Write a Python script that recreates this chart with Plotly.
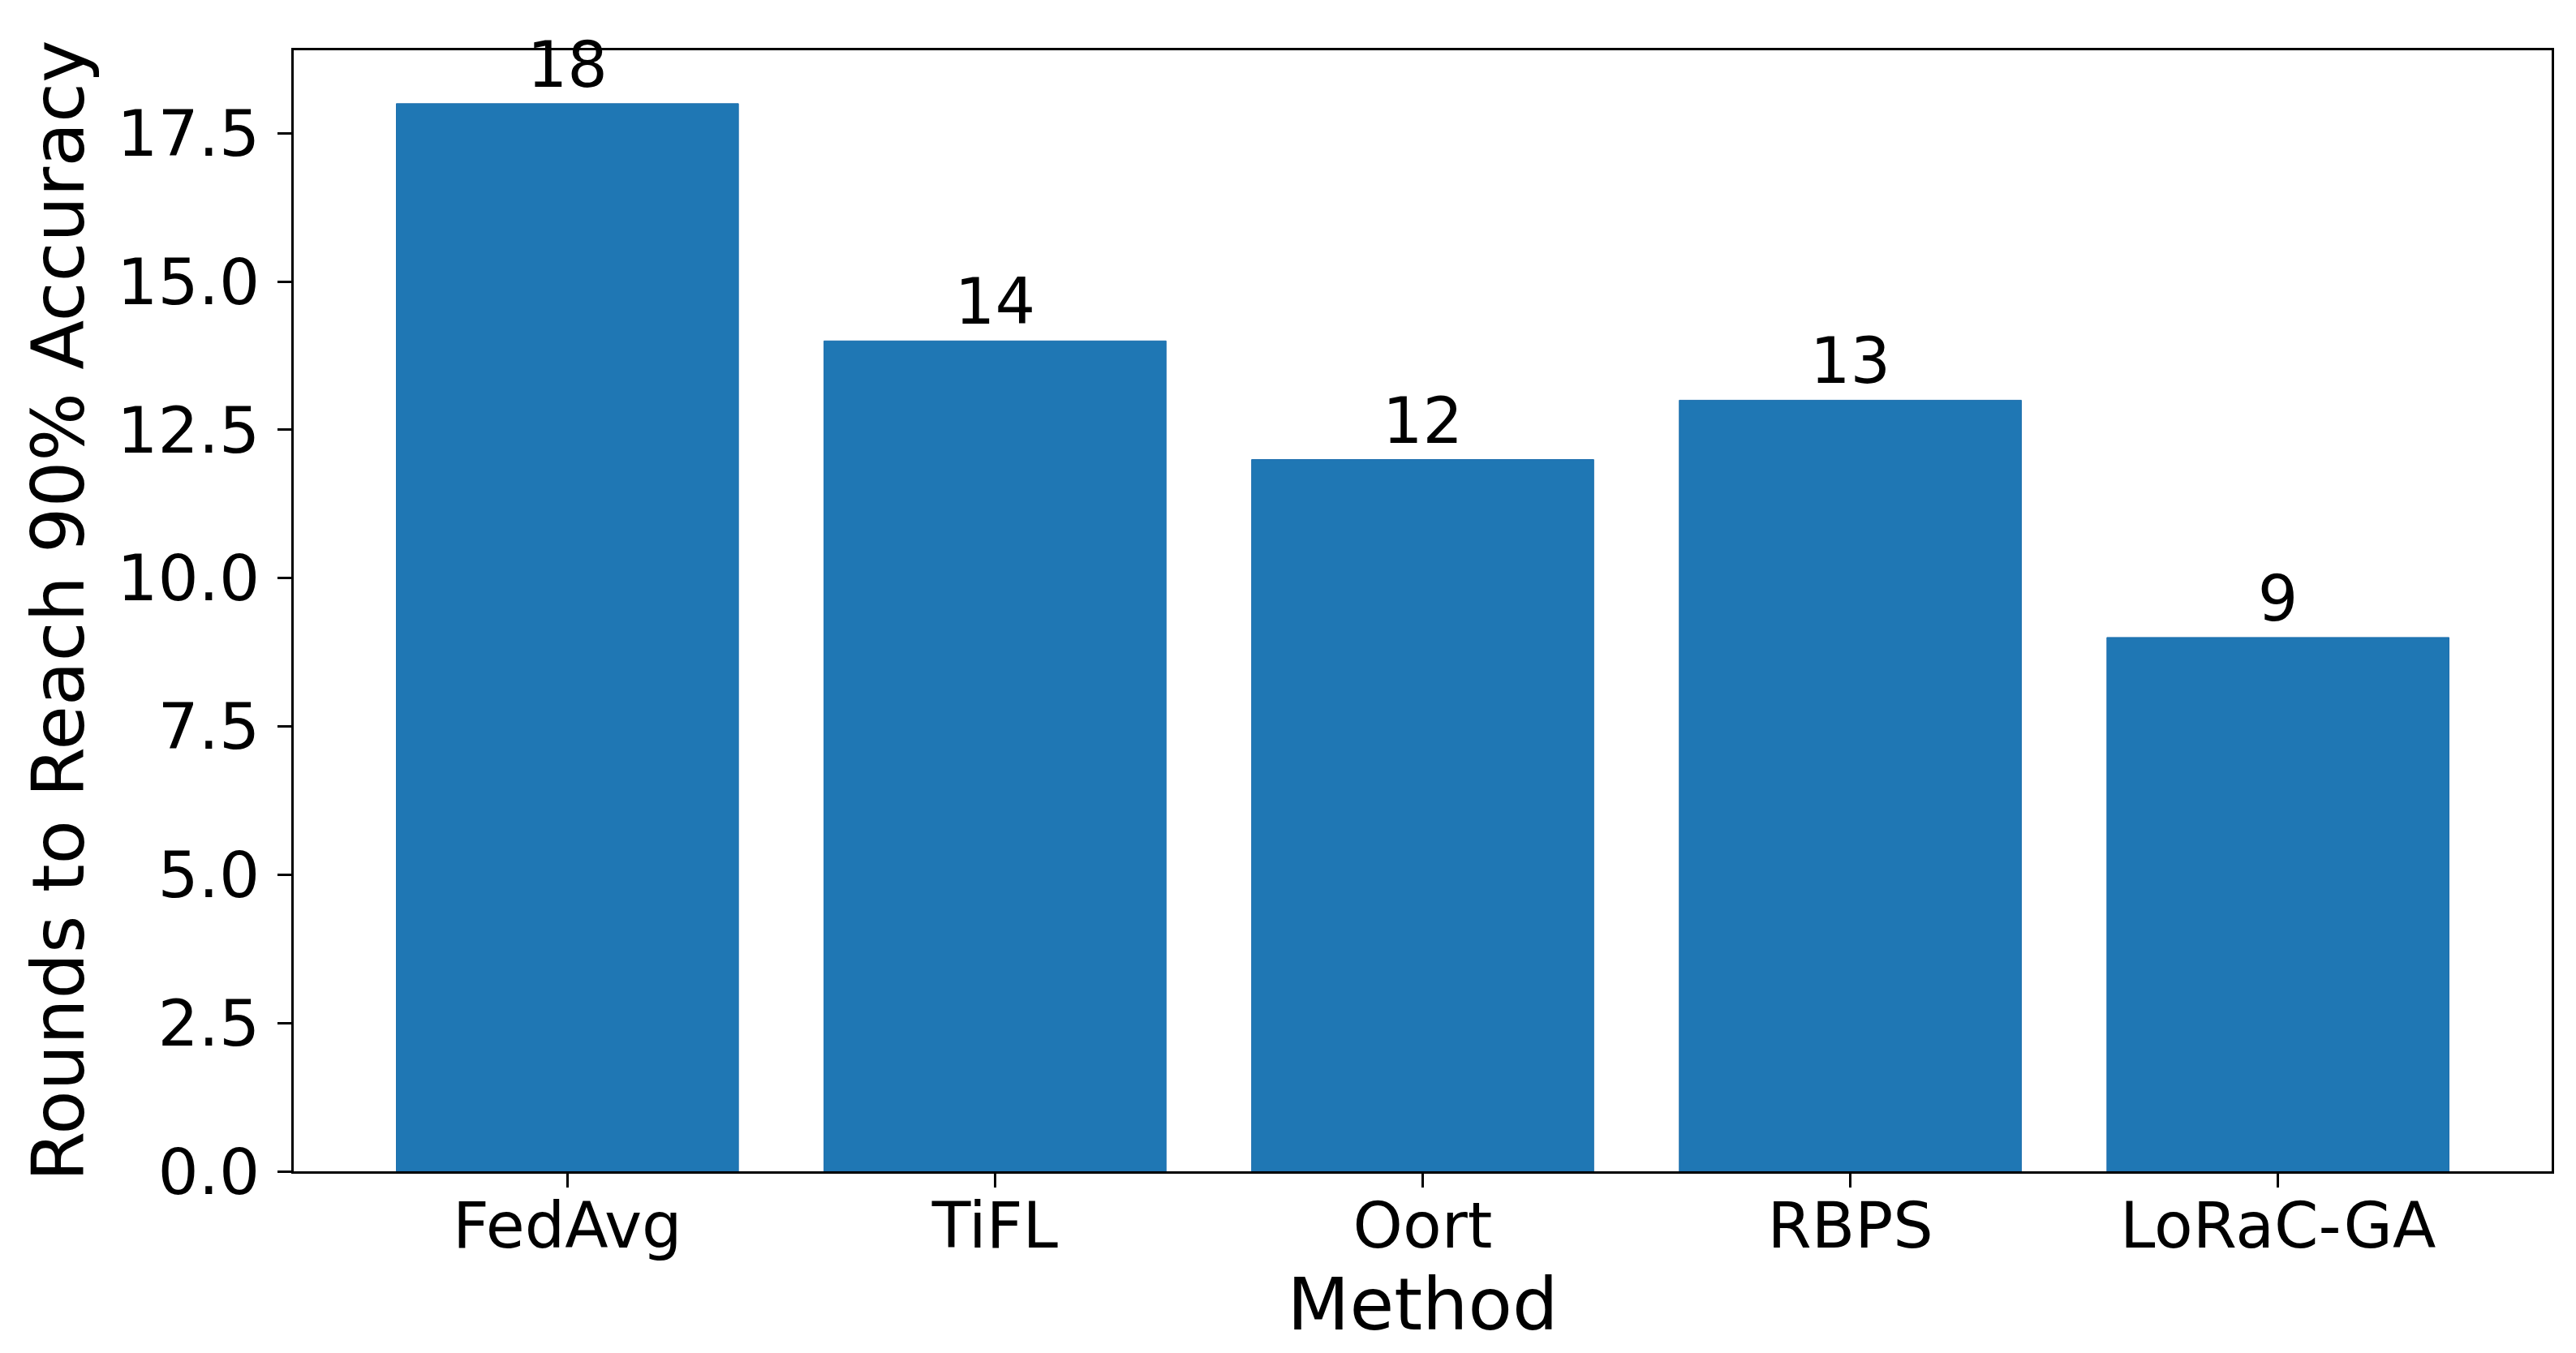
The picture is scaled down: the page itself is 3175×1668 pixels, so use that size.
import plotly.graph_objects as go

methods = ["FedAvg", "TiFL", "Oort", "RBPS", "LoRaC-GA"]
rounds = [18, 14, 12, 13, 9]
y_ticks = [0.0, 2.5, 5.0, 7.5, 10.0, 12.5, 15.0, 17.5]
y_tick_text = ["0.0", "2.5", "5.0", "7.5", "10.0", "12.5", "15.0", "17.5"]

FONT = "DejaVu Sans"
x_pos = list(range(len(methods)))

fig = go.Figure()
fig.add_trace(go.Bar(
    x=x_pos, y=rounds, width=0.8,
    marker=dict(color="#1f77b4", line=dict(color="#1f6fae", width=1)),
    text=[str(v) for v in rounds], textposition="outside",
    textfont=dict(family=FONT, size=78, color="black"),
    cliponaxis=False, showlegend=False,
))

fig.update_layout(
    width=3175, height=1668,
    margin=dict(l=354, r=38, t=54, b=232),
    paper_bgcolor="white", plot_bgcolor="white",
    font=dict(family=FONT, color="black"),
    bargap=0.2,
)
fig.update_xaxes(
    range=[-0.64, 4.64], tickmode="array", tickvals=x_pos, ticktext=methods,
    tickfont=dict(size=78, family=FONT), ticks="outside", ticklen=17, tickwidth=3,
    tickcolor="black", showline=True, linecolor="black", linewidth=3, mirror=True,
    showgrid=False, zeroline=False, ticklabelstandoff=-20,
    title=dict(text="Method", font=dict(size=89, family=FONT), standoff=8),
)
fig.update_yaxes(
    range=[0, 18.9], tickmode="array", tickvals=y_ticks, ticktext=y_tick_text,
    tickfont=dict(size=79, family=FONT), ticks="outside", ticklen=17, tickwidth=3,
    tickcolor="black", showline=True, linecolor="black", linewidth=3, mirror=True,
    showgrid=False, zeroline=False, ticklabelstandoff=6,
    title=dict(text="Rounds to Reach 90% Accuracy", font=dict(size=89, family=FONT), standoff=12),
)

fig.write_html("out.html")
